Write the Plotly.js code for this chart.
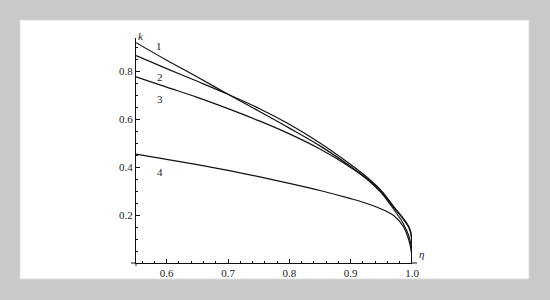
<!DOCTYPE html>
<html><head><meta charset="utf-8">
<script src="https://cdn.plot.ly/plotly-3.0.1.min.js"></script>
<style>html,body{margin:0;padding:0;background:#c9c9c9;}#chart{width:550px;height:300px;}</style>
</head><body><div id="chart"></div>
<script>
const eta = [0.55,0.6,0.65,0.7,0.75,0.8,0.85,0.9,0.93,0.95,0.97,0.985,0.995,0.999,1.0];
const k1 = [0.918,0.845,0.775,0.703,0.633,0.562,0.488,0.402,0.345,0.296,0.232,0.185,0.147,0.11,0.0];
const k2 = [0.864,0.81,0.757,0.703,0.645,0.578,0.50,0.41,0.35,0.301,0.236,0.189,0.151,0.115,0.0];
const k3 = [0.776,0.733,0.69,0.643,0.593,0.538,0.475,0.398,0.342,0.292,0.224,0.168,0.112,0.062,0.0];
const k4 = [0.454,0.432,0.41,0.386,0.36,0.332,0.302,0.268,0.245,0.225,0.198,0.155,0.095,0.045,0.0];
const curveLabels = ["1","2","3","4"];
const labelEta = [0.588,0.589,0.589,0.589];
const labelK = [0.904,0.776,0.683,0.38];

const font = {family:'Liberation Serif', size:11, color:'#222'};
const line = {color:'#111', width:1.2, shape:'spline', smoothing:1};
const traces = [k1,k2,k3,k4].map(k => ({x:eta, y:k, type:'scatter', mode:'lines', line:line, hoverinfo:'skip'}));

const annotations = curveLabels.map((t,i)=>({x:labelEta[i], y:labelK[i], xref:'x', yref:'y', text:t, showarrow:false, font:font}));
annotations.push({x:0, y:1.045, xref:'paper', yref:'paper', text:'<i>k</i>', showarrow:false, font:font});
annotations.push({x:1.05, y:0.005, xref:'paper', yref:'paper', text:'<i>η</i>', showarrow:false, font:font});

const layout = {
  width:550, height:300,
  margin:{l:136, r:138, t:38, b:37},
  paper_bgcolor:'#c9c9c9', plot_bgcolor:'white',
  showlegend:false, font:font,
  xaxis:{range:[0.55,1.0], tickvals:[0.6,0.7,0.8,0.9,1.0], ticktext:['0.6','0.7','0.8','0.9','1.0'],
    ticks:'inside', ticklen:4, tickwidth:1, tickcolor:'#111', showline:true, linecolor:'#111', linewidth:1,
    showgrid:false, zeroline:false, tickfont:font,
    minor:{dtick:0.02, tick0:0.5, ticks:'inside', ticklen:2, tickcolor:'#111', showgrid:false}},
  yaxis:{range:[0,0.9375], tickvals:[0.2,0.4,0.6,0.8], ticktext:['0.2','0.4','0.6','0.8'],
    ticks:'inside', ticklen:4, tickwidth:1, tickcolor:'#111', showline:true, linecolor:'#111', linewidth:1,
    showgrid:false, zeroline:false, tickfont:font,
    minor:{dtick:0.05, tick0:0, ticks:'inside', ticklen:2, tickcolor:'#111', showgrid:false}},
  shapes:[
    {type:'rect', xref:'paper', yref:'paper', x0:-0.4203, x1:1.4239, y0:-0.0711, y1:1.08, fillcolor:'white', line:{color:'#dedede', width:1}, layer:'below'},
    {type:'line', xref:'paper', yref:'paper', x0:-0.018, x1:0, y0:0, y1:0, line:{color:'#111', width:1}},
    {type:'line', xref:'paper', yref:'paper', x0:1, x1:1.018, y0:0, y1:0, line:{color:'#111', width:1}},
    {type:'line', xref:'paper', yref:'paper', x0:0, x1:0, y0:-0.013, y1:0, line:{color:'#111', width:1}}
  ],
  annotations:annotations
};
Plotly.newPlot('chart', traces, layout, {staticPlot:true, displayModeBar:false});
</script></body></html>
